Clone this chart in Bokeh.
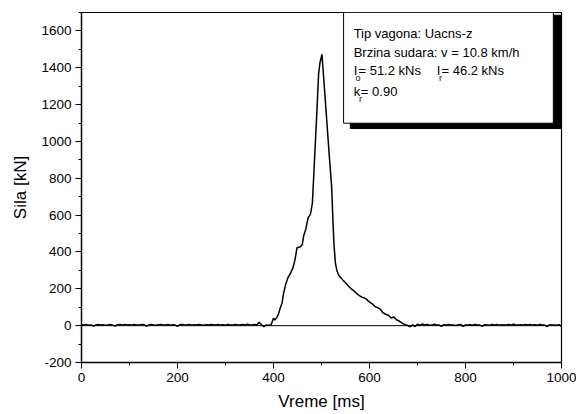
import numpy as np
from bokeh.plotting import figure
from bokeh.models import Span, Label, SingleIntervalTicker, Range1d
from bokeh.embed import file_html
from bokeh.resources import INLINE

# ---- data ----
# baseline before impact, sampled every 5 ms from 0 to 390 ms
t_pre = list(range(0, 391, 5))
f_pre = [5, 3, 6, 2, 4, -3, 4, 6, 3, 5,
         2, 4, 7, 3, -2, 5, 6, 3, 7, 4,
         5, 2, 6, 4, 3, 7, 5, -3, 3, 6,
         4, 2, 5, 7, 4, 3, 6, 2, 5, 4,
         -4, 5, 6, 3, 4, 7, 2, 5, 3, 6,
         4, 2, 5, 3, 6, 5, 4, 7, 3, 5,
         2, 6, 4, 3, 7, 5, 4, 6, 3, 8,
         5, 4, 6, 3, 18, 5, -6, 4, 2]

# impact pulse
t_imp = [395, 400, 403, 407, 410, 414, 418, 421, 425, 430, 435, 441, 445, 449,
         452, 456, 460, 463, 467, 472, 477, 481, 483, 486, 490, 494, 497, 501,
         504, 508, 512, 516, 521, 524, 526, 529, 532, 536, 541, 546, 551, 556,
         562, 567, 573, 578, 584, 590, 595, 600, 606, 612, 617, 623, 628, 634,
         640, 645, 651, 656, 662, 667, 672, 678, 682]
f_imp = [5, 40, 30, 45, 60, 95, 125, 175, 220, 260, 282, 318, 360, 424,
         424, 428, 440, 490, 520, 585, 606, 665, 770, 930, 1140, 1368, 1430, 1473,
         1365, 1220, 1075, 930, 760, 560, 440, 340, 300, 272, 258, 243, 230, 215,
         200, 190, 175, 165, 155, 150, 140, 128, 118, 103, 98, 88, 70, 62,
         55, 42, 47, 32, 25, 15, 8, 3, -2]

# baseline after impact, every 5 ms from 685 to 1000 ms
t_post = list(range(685, 1001, 5))
f_post = [-6, 4, -5, 8, 2, 10, 4, 6, 2, 3,
          8, 4, 3, -3, 5, 2, 6, 4, 3, 1,
          5, 7, -4, 4, 3, 5, 2, 6, 4, 3,
          -3, 5, 4, 2, 6, 3, 7, 2, 5, 4,
          3, 6, 2, 8, 4, 3, 5, 2, 6, 4,
          7, 3, 5, 2, 6, 4, 3, -5, 5, 3,
          4, 2, 5, -4]

time_ms = t_pre + t_imp + t_post
force_kn = f_pre + f_imp + f_post

x_ticks_interval = 200
y_ticks_interval = 200

FONT = "Liberation Sans"

p = figure(width=576, height=414,
           x_range=Range1d(0, 1000), y_range=Range1d(-200, 1700),
           output_backend="svg", toolbar_location=None,
           min_border_left=81, min_border_right=15,
           min_border_top=12, min_border_bottom=52)

p.xgrid.visible = False
p.ygrid.visible = False
p.background_fill_color = "white"
p.border_fill_color = "white"
p.outline_line_color = "black"
p.outline_line_alpha = 1.0
p.outline_line_width = 1.2

for ax, interval in ((p.xaxis[0], x_ticks_interval), (p.yaxis[0], y_ticks_interval)):
    ax.ticker = SingleIntervalTicker(interval=interval, num_minor_ticks=2)
    ax.axis_line_color = "black"
    ax.axis_line_width = 1.3
    ax.major_tick_line_color = "black"
    ax.minor_tick_line_color = "black"
    ax.major_tick_in = 0
    ax.major_tick_out = 6
    ax.minor_tick_in = 0
    ax.minor_tick_out = 3
    ax.major_label_text_font = FONT
    ax.major_label_text_font_size = "13.5px"
    ax.major_label_text_color = "black"
    ax.axis_label_text_font = FONT
    ax.axis_label_text_font_size = "17px"
    ax.axis_label_text_font_style = "normal"
    ax.axis_label_text_color = "black"

p.yaxis.major_label_overrides = {-200: "-200"}
p.xaxis.axis_label = "Vreme [ms]"
p.yaxis.axis_label = "Sila [kN]"
p.xaxis.major_label_standoff = 4
p.xaxis.axis_label_standoff = 7
p.yaxis.major_label_standoff = 4
p.yaxis.axis_label_standoff = 8

# zero line
p.add_layout(Span(location=0, dimension="width", line_color="black", line_width=1))

# force curve
p.line(time_ms, force_kn, line_color="black", line_width=1.5)

# text box with shadow
p.quad(left=[560], right=[998], top=[1685], bottom=[1070],
       fill_color="black", line_color="black")
p.quad(left=[546], right=[983], top=[1700], bottom=[1099],
       fill_color="white", line_color="black", line_width=1)

def lab(x, y, text, size="13px"):
    p.add_layout(Label(x=x, y=y, text=text, text_font=FONT, text_font_size=size,
                       text_color="black", text_baseline="alphabetic",
                       text_align="left"))

lab(567, 1584, "Tip vagona: Uacns-z")
lab(567, 1483, "Brzina sudara: v = 10.8 km/h")
lab(567, 1383, "I")
lab(571, 1345, "o", "9px")
lab(577, 1383, "= 51.2 kNs")
lab(740, 1383, "I")
lab(745, 1345, "r", "9px")
lab(750, 1383, "= 46.2 kNs")
lab(567, 1269, "k")
lab(578, 1231, "r", "9px")
lab(582, 1269, "= 0.90")

open("out.html", "w").write(file_html(p, INLINE))
